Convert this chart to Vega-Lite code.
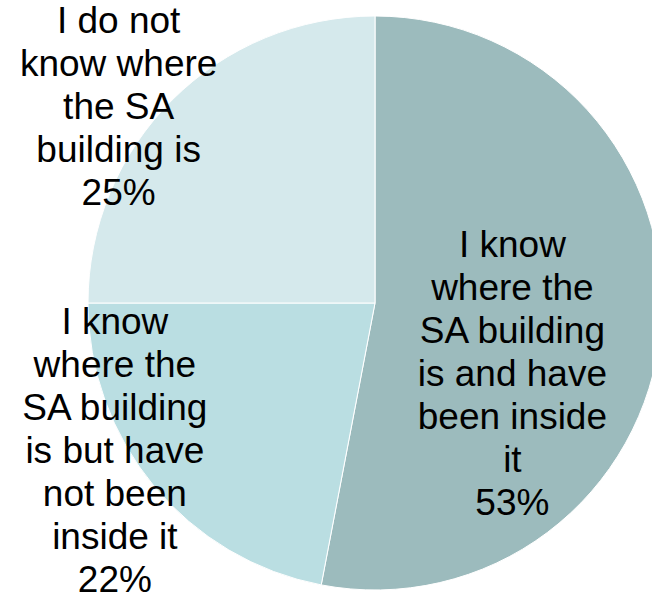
{
  "$schema": "https://vega.github.io/schema/vega-lite/v6.json",
  "width": 750,
  "height": 606,
  "autosize": "none",
  "padding": 0,
  "background": "white",
  "data": {
    "values": [
      {"category": "know_inside", "order": 1, "value": 53, "label": "I know\nwhere the\nSA building\nis and have\nbeen inside\nit\n53%"},
      {"category": "know_not_inside", "order": 2, "value": 22, "label": "I know\nwhere the\nSA building\nis but have\nnot been\ninside it\n22%"},
      {"category": "dont_know", "order": 3, "value": 25, "label": "I do not\nknow where\nthe SA\nbuilding is\n25%"}
    ]
  },
  "encoding": {
    "theta": {"field": "value", "type": "quantitative", "stack": true},
    "order": {"field": "order", "type": "quantitative"}
  },
  "layer": [
    {
      "mark": {"type": "arc", "outerRadius": 287, "stroke": "white", "strokeWidth": 1},
      "encoding": {
        "color": {
          "field": "category",
          "type": "nominal",
          "scale": {"domain": ["know_inside", "know_not_inside", "dont_know"], "range": ["#9CBBBD", "#BADEE2", "#D5E9EC"]},
          "legend": null
        }
      }
    },
    {
      "mark": {"type": "text", "radius": 138, "dy": -70, "fontSize": 37, "font": "Liberation Sans", "lineBreak": "\n", "lineHeight": 43, "align": "center", "baseline": "middle", "color": "black"},
      "encoding": {"text": {"condition": {"test": "datum.category === 'know_inside'", "field": "label"}, "value": ""}}
    },
    {
      "mark": {"type": "text", "radius": 300, "dx": -29, "dy": -171, "fontSize": 37, "font": "Liberation Sans", "lineBreak": "\n", "lineHeight": 43, "align": "center", "baseline": "middle", "color": "black"},
      "encoding": {"text": {"condition": {"test": "datum.category === 'know_not_inside'", "field": "label"}, "value": ""}}
    },
    {
      "mark": {"type": "text", "radius": 330, "dx": -23, "dy": -48, "fontSize": 37, "font": "Liberation Sans", "lineBreak": "\n", "lineHeight": 43, "align": "center", "baseline": "middle", "color": "black"},
      "encoding": {"text": {"condition": {"test": "datum.category === 'dont_know'", "field": "label"}, "value": ""}}
    }
  ]
}
